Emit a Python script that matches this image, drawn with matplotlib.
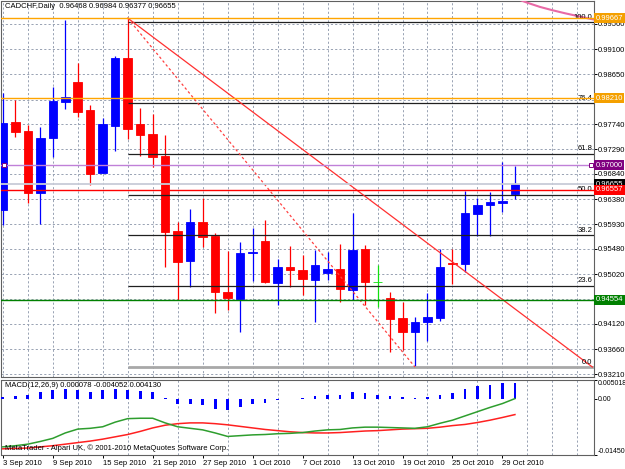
import matplotlib
matplotlib.use('Agg')
import matplotlib.pyplot as plt
import matplotlib.transforms as mtransforms
import numpy as np

plt.rcParams['font.family'] = ['Liberation Sans', 'DejaVu Sans']

# ---------------- data ----------------
opens = [0.96186, 0.97782, 0.97619, 0.96494, 0.97492, 0.98145, 0.98508, 0.98000, 0.96857, 0.97710,
         0.98943, 0.97746, 0.97565, 0.97166, 0.95805, 0.95261, 0.95968, 0.95714, 0.94699, 0.94572,
         0.95406, 0.95624, 0.94862, 0.95152, 0.95098, 0.94916, 0.95043, 0.95116, 0.94735, 0.95479,
         0.94880, 0.94590, 0.94227, 0.93973, 0.94154, 0.94227, 0.95225, 0.95206, 0.96113, 0.96277,
         0.96313, 0.96468]
highs = [0.98308, 0.98181, 0.97728, 0.97692, 0.98417, 0.99633, 0.98853, 0.98091, 0.97855, 0.98980,
         0.99667, 0.98036, 0.97927, 0.97547, 0.95968, 0.96204, 0.96404, 0.95769, 0.95442, 0.95606,
         0.95860, 0.96005, 0.95297, 0.95533, 0.95370, 0.95460, 0.95424, 0.95569, 0.96132, 0.95551,
         0.95188, 0.94699, 0.94517, 0.94245, 0.94680, 0.95479, 0.95479, 0.96531, 0.96404, 0.96513,
         0.97057, 0.96984]
lows = [0.95914, 0.97510, 0.96313, 0.95932, 0.97147, 0.98018, 0.97873, 0.96640, 0.96850, 0.97256,
        0.97474, 0.97166, 0.96966, 0.95152, 0.94553, 0.94789, 0.95515, 0.94318, 0.94372, 0.93973,
        0.94898, 0.94862, 0.94463, 0.94789, 0.94644, 0.94154, 0.94916, 0.94517, 0.94553, 0.94463,
        0.94426, 0.93610, 0.93646, 0.93338, 0.93810, 0.94172, 0.94844, 0.95061, 0.95714, 0.95714,
        0.96150, 0.96377]
closes = [0.97764, 0.97601, 0.96494, 0.97492, 0.98163, 0.98236, 0.97964, 0.96839, 0.97746, 0.98943,
          0.97655, 0.97547, 0.97147, 0.95787, 0.95243, 0.95968, 0.95696, 0.94699, 0.94590, 0.95406,
          0.95424, 0.94880, 0.95152, 0.95098, 0.94934, 0.95188, 0.95116, 0.94753, 0.95460, 0.94880,
          0.94880, 0.94209, 0.93973, 0.94154, 0.94245, 0.95152, 0.95206, 0.96132, 0.96277, 0.96331,
          0.96349, 0.96655]

macd_hist = [0.0004, 0.0007, 0.0009, 0.0018, 0.0023, 0.0025, 0.0023, 0.0017, 0.0023, 0.0025,
             0.0022, 0.0021, 0.0019, 0.0003, -0.0013, -0.0014, -0.0017, -0.0025, -0.0029, -0.0022,
             -0.0014, -0.0010, -0.0003, -0.0001, 0.0002, 0.0008, 0.0011, 0.0010, 0.0017, 0.0014,
             0.0010, 0.0007, 0.0004, 0.00025, 0.0004, 0.0010, 0.0014, 0.0025, 0.0033, 0.0037,
             0.0040, 0.004130]
macd_main = [-0.0124, -0.0121, -0.0117, -0.0110, -0.0102, -0.0088, -0.0078, -0.0076, -0.0072, -0.0060,
             -0.0051, -0.0050, -0.0050, -0.0062, -0.0072, -0.0076, -0.0080, -0.0088, -0.0097, -0.0095,
             -0.0093, -0.0092, -0.0090, -0.0089, -0.0087, -0.0083, -0.0080, -0.0079, -0.0075, -0.0073,
             -0.0073, -0.0074, -0.0075, -0.0076, -0.0072, -0.0063, -0.0055, -0.0044, -0.0033, -0.0022,
             -0.0012, 0.000078]
macd_signal = [-0.0129, -0.0128, -0.0127, -0.0124, -0.0121, -0.0117, -0.0113, -0.0109, -0.0104, -0.0098,
               -0.0092, -0.0084, -0.0075, -0.0068, -0.0064, -0.0062, -0.0062, -0.0064, -0.0067, -0.0071,
               -0.0075, -0.0079, -0.0082, -0.0085, -0.0087, -0.0088, -0.0088, -0.0087, -0.0085, -0.0083,
               -0.0082, -0.0080, -0.0078, -0.0077, -0.0076, -0.0073, -0.0069, -0.0066, -0.0061, -0.0055,
               -0.0048, -0.004052]

date_label_idx = [0, 4, 8, 12, 16, 20, 24, 28, 32, 36, 40]
date_labels = ['3 Sep 2010', '9 Sep 2010', '15 Sep 2010', '21 Sep 2010', '27 Sep 2010',
               '1 Oct 2010', '7 Oct 2010', '13 Oct 2010', '19 Oct 2010', '25 Oct 2010', '29 Oct 2010']

price_ticks = [0.99560, 0.99100, 0.98650, 0.98190, 0.97740, 0.97290, 0.96840, 0.96380,
               0.95930, 0.95480, 0.95020, 0.94570, 0.94120, 0.93660, 0.93210]
price_tick_labels = ['0.99560', '0.99100', '0.98650', '', '0.97740', '0.97290', '0.96840', '0.96380',
                     '0.95930', '0.95480', '0.95020', '', '0.94120', '0.93660', '0.93210']

# horizontal price lines: value, line colour, label background
hline_vals = [0.99667, 0.98210, 0.97000, 0.96655, 0.96557, 0.94554]
hline_colors = ['#FFA500', '#FFA500', '#C080D8', '#C8CCD8', '#FF0000', '#008000']
hline_label_bg = ['#F4A000', '#F4A000', '#800080', '#000000', '#FF0000', '#008000']
hline_labels = ['0.99667', '0.98210', '0.97000', '0.96655', '0.96557', '0.94554']

# fibonacci retracement
fib_start_bar = 10
fib_end_bar = 33
fib_high = 0.99596
fib_low = 0.93338
fib_levels = [1.0, 0.764, 0.618, 0.5, 0.382, 0.236, 0.0]
fib_level_labels = ['100.0', '76.4', '61.8', '50.0', '38.2', '23.6', '0.0']

# trendline
trend_x = [10, 47.2]
trend_y = [0.99667, 0.93338]

# displaced moving average (future area, top right)
ma_x = [41, 42, 43, 44, 45, 46, 47, 48]
ma_vals = [1.00030, 0.99945, 0.99870, 0.99810, 0.99755, 0.99705, 0.99655, 0.99610]

title_text = 'CADCHF,Daily  0.96468 0.96984 0.96377 0.96655'
macd_text = 'MACD(12,26,9) 0.000078 -0.004052 0.004130'
copyright_text = 'MetaTrader - Alpari UK, \u00a9 2001-2010 MetaQuotes Software Corp.'

# ---------------- figure ----------------
W, H = 625, 469
fig = plt.figure(figsize=(W / 100, H / 100), dpi=100)
fig.patch.set_facecolor('white')

def px_axes(x0, y0, x1, y1):
    return fig.add_axes([x0 / W, 1 - y1 / H, (x1 - x0) / W, (y1 - y0) / H])

ax = px_axes(1.5, 1.5, 594, 377)
ax2 = px_axes(1.5, 379.5, 594, 455)

FS = 5.5
GRID = dict(color='#98A2B3', linestyle=(0, (2.2, 2.2)), linewidth=0.7)
SPINE = '#606060'

n = len(opens)
x = np.arange(n)
xlim = (-0.104, 47.33)

for a in (ax, ax2):
    a.set_xlim(*xlim)
    a.set_facecolor('white')
    for s in a.spines.values():
        s.set_color(SPINE)
        s.set_linewidth(0.8)
    a.set_xticks(np.arange(0, 48, 2), minor=True)
    a.grid(axis='x', which='minor', **GRID)
    a.set_axisbelow(True)
    a.tick_params(which='minor', length=0)

# ---- main panel ----
ax.set_ylim(0.93157, 0.99968)
ax.yaxis.tick_right()
ax.set_yticks(price_ticks)
ax.set_yticklabels(price_tick_labels)
ax.tick_params(axis='y', length=2.2, width=0.7, pad=0.6, labelsize=FS, colors='black')
ax.grid(axis='y', which='major', **GRID)
ax.set_xticks([])

colors = []
for o, c in zip(opens, closes):
    if c > o:
        colors.append('#0000FF')
    elif c < o:
        colors.append('#FF0000')
    else:
        colors.append('#10E010')
o_arr = np.array(opens)
c_arr = np.array(closes)
ax.vlines(x, lows, highs, colors=colors, linewidth=0.9, zorder=3)
ax.bar(x, np.abs(c_arr - o_arr), bottom=np.minimum(o_arr, c_arr), width=0.68,
       color=colors, edgecolor=colors, linewidth=0.6, zorder=4)

# fibonacci
rng = fib_high - fib_low
for lev, lab in zip(fib_levels, fib_level_labels):
    val = fib_low + lev * rng
    if lev == 0.0:
        ax.hlines(val, fib_start_bar, xlim[1], colors='#A8A8A8', linewidth=2.0, zorder=5)
    else:
        ax.hlines(val, fib_start_bar, xlim[1], colors='#202020', linewidth=0.9, zorder=5)
    ax.text(xlim[1] - 0.12, val + 0.00025, lab, ha='right', va='bottom', fontsize=FS,
            color='black', zorder=6)
ax.plot([fib_start_bar, fib_end_bar], [fib_high + 0.0007, fib_low], color='#FF4040',
        linestyle=(0, (2, 2)), linewidth=0.9, zorder=5)

# trendline
ax.plot(trend_x, trend_y, color='#FF3030', linewidth=0.9, zorder=5)

# displaced MA
ax.plot(ma_x, ma_vals, color='#E86AA6', linewidth=1.5, zorder=5)

# horizontal lines + labels
trans = mtransforms.blended_transform_factory(ax.transAxes, ax.transData)
for val, lc, bg, lab in zip(hline_vals, hline_colors, hline_label_bg, hline_labels):
    lw = 1.3 if lc == '#C8CCD8' else 1.0
    ax.axhline(val, color=lc, linewidth=lw, zorder=6)
    ax.text(1.0025, val, lab, transform=trans, ha='left', va='center', fontsize=FS,
            color='white', clip_on=False, zorder=10,
            bbox=dict(boxstyle='square,pad=0.2', fc=bg, ec='none'))
# selection handles on the 0.97000 line
ax.plot([0.12, 47.1], [0.97000, 0.97000], linestyle='none', marker='s', markersize=2.8,
        markerfacecolor='white', markeredgecolor='#800080', markeredgewidth=0.7, zorder=7)

ax.text(0.006, 0.986, title_text, transform=ax.transAxes, ha='left', va='center',
        fontsize=FS, color='black', zorder=8)

# ---- MACD panel ----
ax2.set_ylim(-0.01450, 0.005018)
ax2.bar(x, macd_hist, width=0.22, color='#0000FF', zorder=3)
ax2.plot(x, macd_signal, color='#FF2020', linewidth=1.1, zorder=4)
ax2.plot(x, macd_main, color='#2E9E2E', linewidth=1.1, zorder=5)
ax2.yaxis.tick_right()
ax2.set_yticks([0.005018, 0.0, -0.01450])
ax2.set_yticklabels(['0.005018', '0.00', '-0.01450'])
ax2.tick_params(axis='y', length=2.2, width=0.7, pad=0.4, labelsize=5.0, colors='black')
lbls = ax2.get_yticklabels()
lbls[0].set_va('top')
lbls[2].set_va('bottom')
ax2.set_xticks(date_label_idx)
ax2.set_xticklabels(date_labels)
ax2.tick_params(axis='x', length=2.5, width=0.7, pad=1.2, labelsize=FS, colors='black')
for t in ax2.get_xticklabels():
    t.set_ha('left')
ax2.text(0.006, 0.925, macd_text, transform=ax2.transAxes, ha='left', va='center',
         fontsize=FS, color='black', zorder=8)
ax2.text(0.006, 0.09, copyright_text, transform=ax2.transAxes, ha='left', va='center',
         fontsize=FS, color='black', zorder=8)

fig.savefig('out.png', dpi=100, facecolor='white')
